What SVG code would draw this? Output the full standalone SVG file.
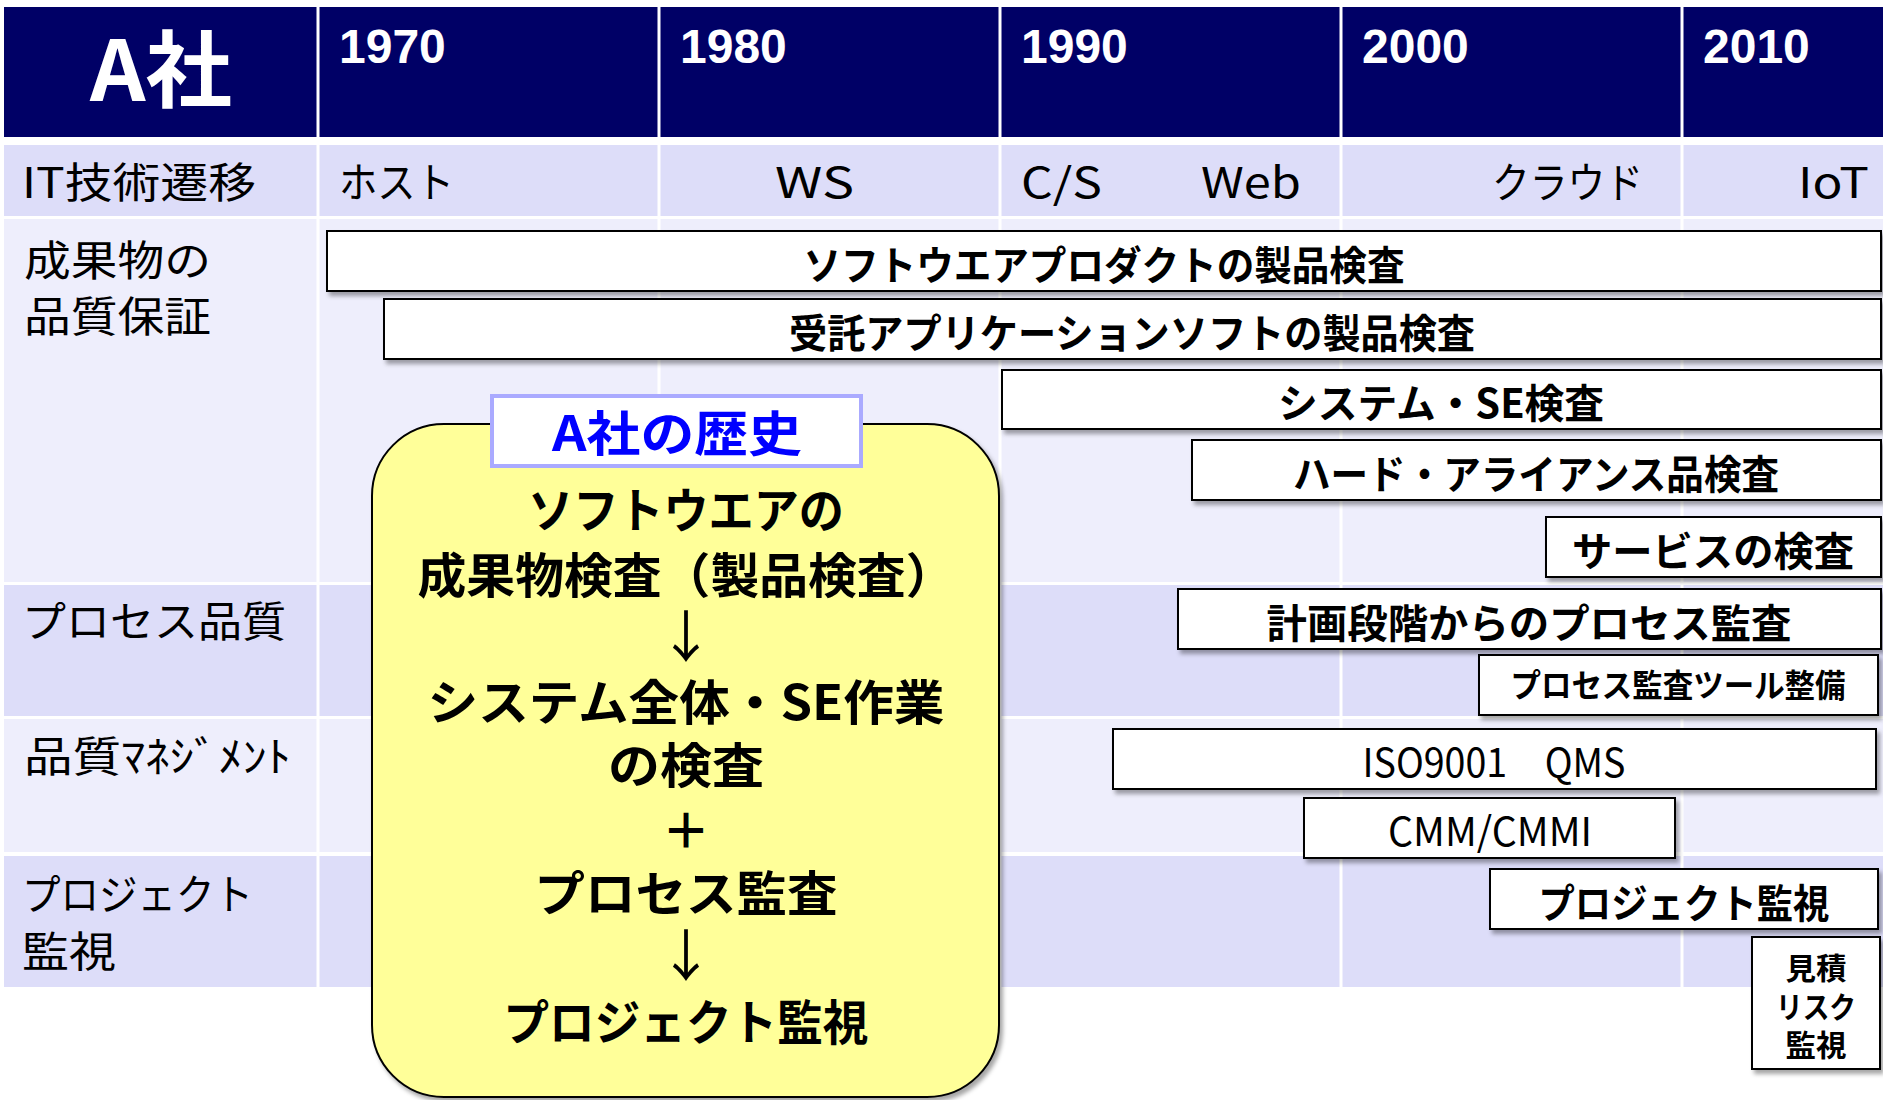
<svg xmlns="http://www.w3.org/2000/svg" width="1883" height="1100" viewBox="0 0 1883 1100">
<style>
text{font-family:"Noto Sans CJK JP","Liberation Sans",sans-serif;}
.hd{fill:#000066;}
.rA{fill:#DDDDF9;}
.rB{fill:#EEEEFC;}
.div{stroke:#FFFFFF;stroke-width:3;}
.yr{font-family:"Liberation Sans","Noto Sans CJK JP",sans-serif;font-weight:bold;font-size:48px;fill:#FFFFFF;}
.lbl{font-size:42px;fill:#000000;}
.box{fill:#FFFFFF;stroke:#000000;stroke-width:2;filter:url(#sh);}
.bt{font-size:40px;font-weight:bold;fill:#000000;text-anchor:middle;}
.yt{font-size:48px;font-weight:bold;fill:#000000;text-anchor:middle;}
</style>
<defs>
<filter id="sh" x="-10%" y="-20%" width="120%" height="150%">
<feDropShadow dx="3" dy="4" stdDeviation="2" flood-color="#000000" flood-opacity="0.35"/>
</filter>
</defs>
<rect x="0" y="0" width="1883" height="1100" fill="#FFFFFF"/>
<g id="table">
<rect class="hd" x="4" y="7" width="1879" height="130"/>
<rect class="rA" x="4" y="145" width="1879" height="71"/>
<rect class="rB" x="4" y="219" width="1879" height="363"/>
<rect class="rA" x="4" y="585" width="1879" height="131"/>
<rect class="rB" x="4" y="719" width="1879" height="133"/>
<rect class="rA" x="4" y="856" width="1879" height="131"/>
<line class="div" x1="318" y1="7" x2="318" y2="987"/>
<line class="div" x1="659" y1="7" x2="659" y2="987"/>
<line class="div" x1="1000" y1="7" x2="1000" y2="987"/>
<line class="div" x1="1341" y1="7" x2="1341" y2="987"/>
<line class="div" x1="1682" y1="7" x2="1682" y2="987"/>
<text x="90" y="101" font-size="84" font-weight="bold" fill="#FFFFFF" textLength="142" lengthAdjust="spacingAndGlyphs">A社</text>
<text class="yr" x="339" y="63">1970</text>
<text class="yr" x="680" y="63">1980</text>
<text class="yr" x="1021" y="63">1990</text>
<text class="yr" x="1362" y="63">2000</text>
<text class="yr" x="1703" y="63">2010</text>
<text class="lbl" x="22" y="198" textLength="234" lengthAdjust="spacingAndGlyphs">IT技術遷移</text>
<text class="lbl" x="339" y="198" textLength="115" lengthAdjust="spacingAndGlyphs">ホスト</text>
<text class="lbl" x="775" y="198" textLength="79" lengthAdjust="spacingAndGlyphs">WS</text>
<text class="lbl" x="1021" y="198" textLength="81" lengthAdjust="spacingAndGlyphs">C/S</text>
<text class="lbl" x="1201" y="198" textLength="100" lengthAdjust="spacingAndGlyphs">Web</text>
<text class="lbl" x="1492" y="198" textLength="151" lengthAdjust="spacingAndGlyphs">クラウド</text>
<text class="lbl" x="1798" y="198" textLength="71" lengthAdjust="spacingAndGlyphs">IoT</text>
<text class="lbl" x="24" y="276" textLength="187" lengthAdjust="spacingAndGlyphs">成果物の</text>
<text class="lbl" x="24" y="332" textLength="187" lengthAdjust="spacingAndGlyphs">品質保証</text>
<text class="lbl" x="22" y="637" textLength="264" lengthAdjust="spacingAndGlyphs">プロセス品質</text>
<text class="lbl" x="24" y="772" textLength="267" lengthAdjust="spacingAndGlyphs">品質ﾏﾈｼﾞﾒﾝﾄ</text>
<text class="lbl" x="22" y="910" textLength="231" lengthAdjust="spacingAndGlyphs">プロジェクト</text>
<text class="lbl" x="22" y="967" textLength="94" lengthAdjust="spacingAndGlyphs">監視</text>
</g>
<g id="connectors"></g>
<g id="box-product">
<rect class="box" x="327" y="231" width="1554" height="60"/>
<text class="bt" x="1104" y="280" textLength="601" lengthAdjust="spacingAndGlyphs">ソフトウエアプロダクトの製品検査</text>
</g>
<g id="box-contract">
<rect class="box" x="384" y="299" width="1497" height="60"/>
<text class="bt" x="1132" y="348" textLength="686" lengthAdjust="spacingAndGlyphs">受託アプリケーションソフトの製品検査</text>
</g>
<g id="box-system">
<rect class="box" x="1002" y="370" width="879" height="59"/>
<text class="bt" x="1441" y="418" textLength="326" lengthAdjust="spacingAndGlyphs">システム・SE検査</text>
</g>
<g id="box-hard">
<rect class="box" x="1192" y="440" width="689" height="60"/>
<text class="bt" x="1536" y="489" textLength="486" lengthAdjust="spacingAndGlyphs">ハード・アライアンス品検査</text>
</g>
<g id="box-service">
<rect class="box" x="1546" y="517" width="335" height="60"/>
<text class="bt" x="1713" y="566" textLength="282" lengthAdjust="spacingAndGlyphs">サービスの検査</text>
</g>
<g id="box-process-audit">
<rect class="box" x="1178" y="589" width="703" height="60"/>
<text class="bt" x="1529" y="638" textLength="525" lengthAdjust="spacingAndGlyphs">計画段階からのプロセス監査</text>
</g>
<g id="box-audit-tool">
<rect class="box" x="1479" y="655" width="399" height="60"/>
<text class="bt" x="1678" y="697" font-size="32" style="font-size:32px" textLength="335" lengthAdjust="spacingAndGlyphs">プロセス監査ツール整備</text>
</g>
<g id="box-iso">
<rect class="box" x="1113" y="729" width="763" height="60"/>
<text class="bt" x="1494" y="777" style="font-weight:normal" textLength="263" lengthAdjust="spacingAndGlyphs">ISO9001　QMS</text>
</g>
<g id="box-cmm">
<rect class="box" x="1304" y="798" width="371" height="60"/>
<text class="bt" x="1490" y="846" style="font-weight:normal" textLength="204" lengthAdjust="spacingAndGlyphs">CMM/CMMI</text>
</g>
<g id="box-project">
<rect class="box" x="1490" y="869" width="388" height="60"/>
<text class="bt" x="1684" y="918" textLength="291" lengthAdjust="spacingAndGlyphs">プロジェクト監視</text>
</g>
<g id="box-risk">
<rect class="box" x="1752" y="937" width="128" height="132"/>
<text class="bt" x="1816" y="979" style="font-size:30px" textLength="61" lengthAdjust="spacingAndGlyphs">見積</text>
<text class="bt" x="1816" y="1018" style="font-size:30px" textLength="80" lengthAdjust="spacingAndGlyphs">リスク</text>
<text class="bt" x="1816" y="1056" style="font-size:30px" textLength="61" lengthAdjust="spacingAndGlyphs">監視</text>
</g>
<g id="history">
<rect x="372" y="424" width="627" height="673" rx="72" ry="72" fill="#FFFF99" stroke="#000000" stroke-width="2" filter="url(#sh)"/>
<text class="yt" x="686" y="528" textLength="316" lengthAdjust="spacingAndGlyphs">ソフトウエアの</text>
<text class="yt" x="686" y="593" textLength="537" lengthAdjust="spacingAndGlyphs">成果物検査（製品検査）</text>
<text class="yt" x="686" y="657" style="font-weight:normal;font-size:56px">↓</text>
<text class="yt" x="686" y="720" textLength="517" lengthAdjust="spacingAndGlyphs">システム全体・SE作業</text>
<text class="yt" x="686" y="783" textLength="156" lengthAdjust="spacingAndGlyphs">の検査</text>
<text class="yt" x="686" y="848">＋</text>
<text class="yt" x="686" y="911" textLength="303" lengthAdjust="spacingAndGlyphs">プロセス監査</text>
<text class="yt" x="686" y="976" style="font-weight:normal;font-size:56px">↓</text>
<text class="yt" x="686" y="1040" textLength="365" lengthAdjust="spacingAndGlyphs">プロジェクト監視</text>
</g>
<g id="history-title">
<rect x="492" y="396" width="369" height="70" fill="#FFFFFF" stroke="#AAAAFF" stroke-width="4"/>
<text x="677" y="451" font-size="48" font-weight="bold" fill="#0000FF" text-anchor="middle" textLength="250" lengthAdjust="spacingAndGlyphs">A社の歴史</text>
</g>
</svg>
